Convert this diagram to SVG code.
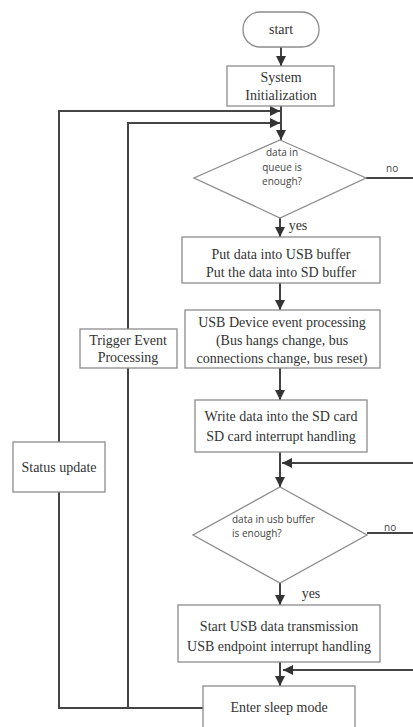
<svg xmlns="http://www.w3.org/2000/svg" width="413" height="727" viewBox="0 0 413 727">
<style>
.box{fill:#fff;stroke:#8c8c8c;stroke-width:1.3}
.t{font-family:"Liberation Serif",serif;font-size:14px;fill:#333;text-anchor:middle}
.s{font-family:"Open Sans","Liberation Sans",sans-serif;font-size:10px;fill:#444}
.c{fill:none;stroke:#444;stroke-width:2}
</style>
<defs>
<marker id="ah" viewBox="0 0 10 10" refX="10" refY="5" markerWidth="10" markerHeight="10" markerUnits="userSpaceOnUse" orient="auto">
<path d="M0,0 L10,5 L0,10 z" fill="#333"/>
</marker>
</defs>
<rect width="413" height="727" fill="#fff"/>
<g id="connectors">
<path class="c" d="M281,47 V66" marker-end="url(#ah)"/>
<path class="c" d="M281,106 V140" marker-end="url(#ah)"/>
<path class="c" d="M203,708 H59 V111 H280" marker-end="url(#ah)"/>
<path class="c" d="M128,708 V123 H280" marker-end="url(#ah)"/>
<path class="c" d="M280,218 V237" marker-end="url(#ah)"/>
<path class="c" d="M280,283 V310" marker-end="url(#ah)"/>
<path class="c" d="M280,368 V400" marker-end="url(#ah)"/>
<path class="c" d="M280,452 V487" marker-end="url(#ah)"/>
<path class="c" d="M413,463 H282" marker-end="url(#ah)"/>
<path class="c" d="M366,178 H413"/>
<path class="c" d="M280,583 V605" marker-end="url(#ah)"/>
<path class="c" d="M367,533 H413"/>
<path class="c" d="M280,662 V686" marker-end="url(#ah)"/>
<path class="c" d="M413,670 H283" marker-end="url(#ah)"/>
</g>
<g id="start">
<rect class="box" x="243" y="12" width="76" height="35" rx="17"/>
<text class="t" x="281" y="34">start</text>
</g>
<g id="sysinit">
<rect class="box" x="227" y="66" width="107" height="40"/>
<text class="t" x="281" y="82">System</text>
<text class="t" x="281" y="100">Initialization</text>
</g>
<g id="decision1">
<polygon class="box" points="280,140 366,178 280,218 194,178"/>
<text class="s" x="282" y="156" text-anchor="middle">data in</text>
<text class="s" x="282" y="171" text-anchor="middle">queue is</text>
<text class="s" x="282" y="185" text-anchor="middle">enough?</text>
<text class="s" x="386" y="172">no</text>
<text class="t" x="298" y="230">yes</text>
</g>
<g id="putdata">
<rect class="box" x="182" y="237" width="198" height="46"/>
<text class="t" x="281" y="259">Put data into USB buffer</text>
<text class="t" x="281" y="277">Put the data into SD buffer</text>
</g>
<g id="usbevent">
<rect class="box" x="185" y="310" width="195" height="58"/>
<text class="t" x="282" y="327">USB Device event processing</text>
<text class="t" x="282" y="345">(Bus hangs change, bus</text>
<text class="t" x="282" y="363">connections change, bus reset)</text>
</g>
<g id="writesd">
<rect class="box" x="195" y="400" width="172" height="52"/>
<text class="t" x="281" y="421">Write data into the SD card</text>
<text class="t" x="281" y="441">SD card interrupt handling</text>
</g>
<g id="decision2">
<polygon class="box" points="280,487 367,535 280,583 193,535"/>
<text class="s" x="232" y="523">data in usb buffer</text>
<text class="s" x="232" y="537">is enough?</text>
<text class="s" x="384" y="531">no</text>
<text class="t" x="311" y="598">yes</text>
</g>
<g id="startusb">
<rect class="box" x="178" y="605" width="202" height="57"/>
<text class="t" x="279" y="631">Start USB data transmission</text>
<text class="t" x="279" y="651">USB endpoint interrupt handling</text>
</g>
<g id="sleep">
<rect class="box" x="203" y="686" width="152" height="50"/>
<text class="t" x="279" y="712">Enter sleep mode</text>
</g>
<g id="trigger">
<rect class="box" x="80" y="329" width="97" height="39"/>
<text class="t" x="128" y="345">Trigger Event</text>
<text class="t" x="128" y="362">Processing</text>
</g>
<g id="status">
<rect class="box" x="13" y="442" width="92" height="50"/>
<text class="t" x="59" y="472">Status update</text>
</g>
</svg>
